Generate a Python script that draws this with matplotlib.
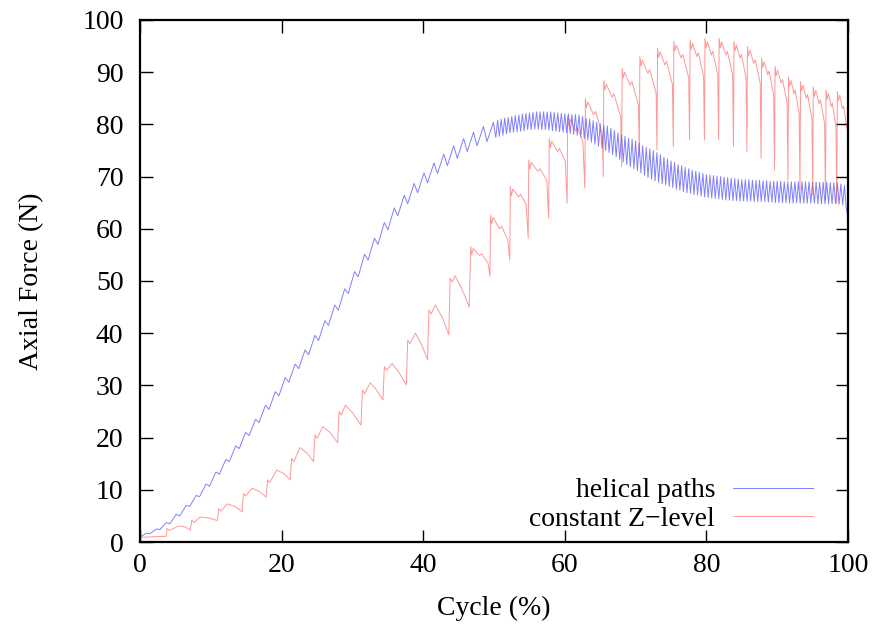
import matplotlib
matplotlib.use("Agg")
import matplotlib.pyplot as plt

# ── Data ──────────────────────────────────────────────────────────────────────
x_ticks = [0, 20, 40, 60, 80, 100]
y_ticks = [0, 10, 20, 30, 40, 50, 60, 70, 80, 90, 100]

# helical paths: small teeth early on, dense ripple band after ~50 %
blue_x = [
    0.0, 0.9, 1.4, 2.3, 2.8, 3.7, 4.2, 5.1, 5.6, 6.5,
    7.0, 7.9, 8.4, 9.3, 9.8, 10.7, 11.2, 12.1, 12.6, 13.5,
    14.0, 14.9, 15.4, 16.3, 16.8, 17.7, 18.2, 19.1, 19.6, 20.5,
    21.0, 21.9, 22.4, 23.3, 23.8, 24.7, 25.2, 26.1, 26.6, 27.5,
    28.0, 28.9, 29.4, 30.3, 30.8, 31.7, 32.2, 33.1, 33.6, 34.5,
    35.0, 35.9, 36.4, 37.3, 37.8, 38.7, 39.2, 40.1, 40.6, 41.5,
    42.0, 42.9, 43.4, 44.3, 44.8, 45.7, 46.2, 47.1, 47.6, 48.5,
    49.0, 49.9,
    50.25, 50.5, 50.75, 51.0, 51.25, 51.5, 51.75, 52.0,
    52.25, 52.5, 52.75, 53.0, 53.25, 53.5, 53.75, 54.0,
    54.25, 54.5, 54.75, 55.0, 55.25, 55.5, 55.75, 56.0,
    56.25, 56.5, 56.75, 57.0, 57.25, 57.5, 57.75, 58.0,
    58.25, 58.5, 58.75, 59.0, 59.25, 59.5, 59.75, 60.0,
    60.25, 60.5, 60.75, 61.0, 61.25, 61.5, 61.75, 62.0,
    62.25, 62.5, 62.75, 63.0, 63.25, 63.5, 63.75, 64.0,
    64.25, 64.5, 64.75, 65.0, 65.25, 65.5, 65.75, 66.0,
    66.25, 66.5, 66.75, 67.0, 67.25, 67.5, 67.75, 68.0,
    68.25, 68.5, 68.75, 69.0, 69.25, 69.5, 69.75, 70.0,
    70.25, 70.5, 70.75, 71.0, 71.25, 71.5, 71.75, 72.0,
    72.25, 72.5, 72.75, 73.0, 73.25, 73.5, 73.75, 74.0,
    74.25, 74.5, 74.75, 75.0, 75.25, 75.5, 75.75, 76.0,
    76.25, 76.5, 76.75, 77.0, 77.25, 77.5, 77.75, 78.0,
    78.25, 78.5, 78.75, 79.0, 79.25, 79.5, 79.75, 80.0,
    80.25, 80.5, 80.75, 81.0, 81.25, 81.5, 81.75, 82.0,
    82.25, 82.5, 82.75, 83.0, 83.25, 83.5, 83.75, 84.0,
    84.25, 84.5, 84.75, 85.0, 85.25, 85.5, 85.75, 86.0,
    86.25, 86.5, 86.75, 87.0, 87.25, 87.5, 87.75, 88.0,
    88.25, 88.5, 88.75, 89.0, 89.25, 89.5, 89.75, 90.0,
    90.25, 90.5, 90.75, 91.0, 91.25, 91.5, 91.75, 92.0,
    92.25, 92.5, 92.75, 93.0, 93.25, 93.5, 93.75, 94.0,
    94.25, 94.5, 94.75, 95.0, 95.25, 95.5, 95.75, 96.0,
    96.25, 96.5, 96.75, 97.0, 97.25, 97.5, 97.75, 98.0,
    98.25, 98.5, 98.75, 99.0, 99.25, 99.5, 99.75, 100.0,
]
blue_y = [
    1.0, 1.7, 1.6, 2.5, 2.4, 3.7, 3.5, 5.3, 5.0, 7.0,
    6.8, 8.9, 8.7, 11.1, 10.7, 13.4, 13.0, 15.8, 15.4, 18.4,
    17.9, 21.0, 20.4, 23.5, 22.9, 26.2, 25.4, 28.8, 28.0, 31.5,
    30.6, 34.1, 33.2, 36.8, 35.9, 39.6, 38.6, 42.4, 41.5, 45.4,
    44.4, 48.5, 47.6, 51.8, 50.8, 55.1, 54.0, 58.2, 57.0, 61.2,
    59.8, 64.0, 62.5, 66.4, 64.8, 68.7, 66.9, 70.7, 68.8, 72.6,
    70.6, 74.3, 72.1, 75.9, 73.5, 77.3, 74.8, 78.5, 75.9, 79.6,
    76.7, 80.4,
    77.5, 80.8, 77.7, 81.0, 77.9, 81.2, 78.2, 81.3,
    78.4, 81.5, 78.5, 81.7, 78.6, 81.8, 78.7, 82.0,
    78.8, 82.1, 79.0, 82.2, 79.0, 82.3, 79.1, 82.4,
    79.1, 82.4, 79.0, 82.4, 79.0, 82.4, 78.9, 82.4,
    78.8, 82.3, 78.7, 82.2, 78.6, 82.1, 78.5, 82.0,
    78.4, 82.0, 78.3, 81.9, 78.1, 81.9, 77.9, 81.8,
    77.6, 81.5, 77.3, 81.2, 77.0, 81.0, 76.6, 80.7,
    76.2, 80.4, 75.8, 80.1, 75.4, 79.9, 75.0, 79.7,
    74.6, 79.3, 74.2, 78.8, 73.8, 78.4, 73.3, 78.0,
    72.8, 77.7, 72.3, 77.3, 71.9, 77.1, 71.5, 76.8,
    71.1, 76.4, 70.7, 75.9, 70.3, 75.6, 69.8, 75.3,
    69.5, 75.0, 69.2, 74.6, 68.9, 74.2, 68.6, 73.7,
    68.4, 73.4, 68.1, 73.0, 67.9, 72.7, 67.6, 72.3,
    67.4, 72.1, 67.1, 71.8, 66.9, 71.5, 66.8, 71.2,
    66.6, 71.0, 66.5, 70.8, 66.3, 70.6, 66.1, 70.4,
    66.0, 70.3, 65.9, 70.2, 65.8, 70.1, 65.7, 70.0,
    65.6, 69.9, 65.5, 69.8, 65.5, 69.7, 65.4, 69.6,
    65.4, 69.5, 65.3, 69.4, 65.3, 69.4, 65.3, 69.4,
    65.3, 69.3, 65.2, 69.3, 65.2, 69.3, 65.2, 69.2,
    65.2, 69.2, 65.1, 69.1, 65.1, 69.1, 65.0, 69.1,
    65.0, 69.1, 65.0, 69.0, 65.0, 69.0, 64.9, 69.0,
    64.9, 69.0, 65.0, 69.0, 64.9, 69.0, 64.9, 69.0,
    64.9, 69.0, 64.9, 68.9, 64.9, 68.9, 64.8, 68.9,
    64.8, 68.9, 64.8, 68.9, 64.8, 68.8, 64.8, 68.8,
    64.8, 68.8, 64.7, 68.6, 64.6, 68.3, 64.0, 62.0,
]

# constant Z-level: one step up per layer, then decay / sharp dip
red_x = [
    0.0, 2.0, 3.7,
    3.8, 4.1, 5.5, 6.3, 7.1,
    7.3, 7.6, 8.5, 9.7, 10.9,
    11.1, 11.4, 12.3, 13.4, 14.4,
    14.6, 14.9, 15.8, 16.8, 17.8,
    18.0, 18.3, 19.3, 20.3, 21.2,
    21.4, 21.7, 22.6, 23.6, 24.5,
    24.7, 25.0, 25.8, 26.9, 27.9,
    28.1, 28.4, 29.0, 30.1, 31.2,
    31.4, 31.7, 32.5, 33.4, 34.3,
    34.5, 34.8, 35.6, 36.6, 37.6,
    37.8, 38.1, 38.9, 39.8, 40.6,
    40.8, 41.1, 41.7, 42.7, 43.6,
    43.8, 44.1, 44.5, 45.5, 46.5,
    46.7, 46.85, 47.05, 47.96, 48.24, 49.15, 49.42,
    49.5, 49.65, 49.85, 50.76, 51.04, 51.95, 52.22,
    52.3, 52.45, 52.65, 53.47, 53.73, 54.55, 54.82,
    54.9, 55.05, 55.25, 56.2, 56.5, 57.45, 57.72,
    57.8, 57.95, 58.15, 58.97, 59.23, 60.05, 60.32,
    60.4, 60.55, 60.75, 61.52, 61.78, 62.55, 62.82,
    62.9, 63.05, 63.25, 64.07, 64.33, 65.3, 65.42,
    65.5, 65.65, 65.85, 66.67, 66.93, 67.9, 68.02,
    68.1, 68.25, 68.45, 69.23, 69.48, 70.4, 70.52,
    70.6, 70.75, 70.95, 71.73, 71.98, 72.9, 73.02,
    73.1, 73.25, 73.45, 74.14, 74.37, 75.2, 75.32,
    75.4, 75.55, 75.75, 76.44, 76.67, 77.5, 77.62,
    77.7, 77.85, 78.05, 78.65, 78.86, 79.6, 79.72,
    79.8, 79.95, 80.15, 80.7, 80.9, 81.6, 81.72,
    81.8, 81.95, 82.15, 82.75, 82.96, 83.7, 83.82,
    83.9, 84.05, 84.25, 84.76, 84.95, 85.6, 85.72,
    85.8, 85.95, 86.15, 86.7, 86.9, 87.6, 87.72,
    87.8, 87.95, 88.15, 88.66, 88.85, 89.5, 89.62,
    89.7, 89.85, 90.05, 90.56, 90.75, 91.4, 91.52,
    91.6, 91.75, 91.95, 92.37, 92.54, 93.1, 93.22,
    93.3, 93.45, 93.65, 94.11, 94.29, 94.9, 95.02,
    95.1, 95.25, 95.45, 95.91, 96.09, 96.7, 96.82,
    96.9, 97.05, 97.25, 97.62, 97.78, 98.3, 98.42,
    98.5, 98.65, 98.85, 99.2, 99.4, 99.7, 100.0,
]
red_y = [
    0.9, 1.0, 1.1,
    2.6, 2.2, 3.1, 2.9, 2.3,
    4.2, 3.7, 4.8, 4.6, 4.1,
    6.4, 5.9, 7.3, 6.8, 5.8,
    9.3, 8.8, 10.3, 9.7, 8.6,
    11.9, 11.4, 13.8, 13.1, 11.9,
    16.0, 15.4, 18.1, 17.0, 15.4,
    20.5, 19.9, 22.1, 20.9, 19.0,
    25.0, 24.3, 26.2, 24.6, 22.4,
    29.1, 28.4, 30.5, 29.1, 27.2,
    33.6, 32.9, 34.2, 32.4, 30.1,
    38.7, 38.0, 40.0, 37.7, 34.9,
    44.4, 43.7, 45.4, 43.0, 39.7,
    50.5, 49.8, 51.0, 48.3, 45.0,
    56.6, 55.0, 56.2, 54.9, 55.2, 53.4, 50.8,
    62.6, 60.9, 62.2, 60.0, 60.5, 57.9, 54.0,
    68.1, 66.3, 67.6, 66.1, 66.6, 64.6, 58.2,
    73.2, 71.4, 72.7, 71.0, 71.5, 69.3, 62.0,
    77.3, 75.5, 76.8, 74.8, 75.4, 73.0, 64.9,
    81.5, 79.7, 81.0, 78.8, 79.4, 76.7, 67.8,
    85.0, 83.2, 84.3, 81.8, 82.5, 78.0, 70.0,
    88.4, 86.6, 87.7, 85.2, 85.9, 81.4, 71.9,
    90.7, 88.9, 90.0, 87.5, 88.2, 83.7, 73.8,
    93.0, 91.2, 92.3, 89.8, 90.5, 86.0, 75.1,
    94.6, 92.8, 93.9, 91.4, 92.1, 87.6, 75.7,
    95.9, 94.1, 95.2, 92.7, 93.4, 88.9, 77.0,
    96.2, 94.4, 95.5, 93.0, 93.7, 89.2, 77.0,
    96.5, 94.7, 95.8, 93.3, 94.0, 89.5, 77.0,
    96.5, 94.7, 95.8, 93.3, 94.0, 89.5, 75.7,
    95.9, 94.1, 95.2, 92.7, 93.4, 88.9, 74.8,
    94.9, 93.1, 94.2, 91.7, 92.4, 87.9, 73.5,
    92.7, 90.9, 92.0, 89.5, 90.2, 85.7, 71.3,
    91.1, 89.3, 90.4, 87.9, 88.6, 84.1, 69.3,
    89.1, 87.3, 88.4, 85.9, 86.6, 82.1, 67.4,
    88.2, 86.4, 87.5, 85.0, 85.7, 81.2, 66.5,
    87.2, 85.4, 86.5, 84.0, 84.7, 80.2, 65.5,
    86.6, 84.8, 85.9, 83.4, 84.1, 79.6, 64.9,
    86.3, 84.5, 85.6, 83.0, 83.5, 80.5, 78.0,
]

series_labels = ["helical paths", "constant Z\u2212level"]

# ── Style ─────────────────────────────────────────────────────────────────────
BLUE = "#2b2bff"
RED = "#ff3030"

plt.rcParams.update({
    "font.family": ["Liberation Serif", "DejaVu Serif"],
    "font.size": 20,
})

fig = plt.figure(figsize=(8.76, 6.32), dpi=100)
ax = fig.add_axes([0.160, 0.1424, 0.808, 0.826])

ax.plot(blue_x, blue_y, color=BLUE, lw=0.7, alpha=0.6, label=series_labels[0])
ax.plot(red_x, red_y, color=RED, lw=0.7, alpha=0.5, label=series_labels[1])

ax.set_xlim(0, 100)
ax.set_ylim(0, 100)
ax.set_xticks(x_ticks)
ax.set_yticks(y_ticks)
ax.tick_params(direction="in", top=True, right=True, length=9, width=1)
ax.tick_params(axis="x", pad=8)
ax.tick_params(axis="y", pad=12)
for s in ax.spines.values():
    s.set_linewidth(1.6)

ax.set_xlabel("Cycle (%)", labelpad=13)
ax.set_ylabel("Axial Force (N)", labelpad=27)

ax.legend(loc="lower right", bbox_to_anchor=(0.951, 0.02), frameon=False,
          markerfirst=False, handlelength=2.88, handletextpad=0.65,
          labelspacing=0.1, borderpad=0, borderaxespad=0)

fig.savefig("out.png", dpi=100)
